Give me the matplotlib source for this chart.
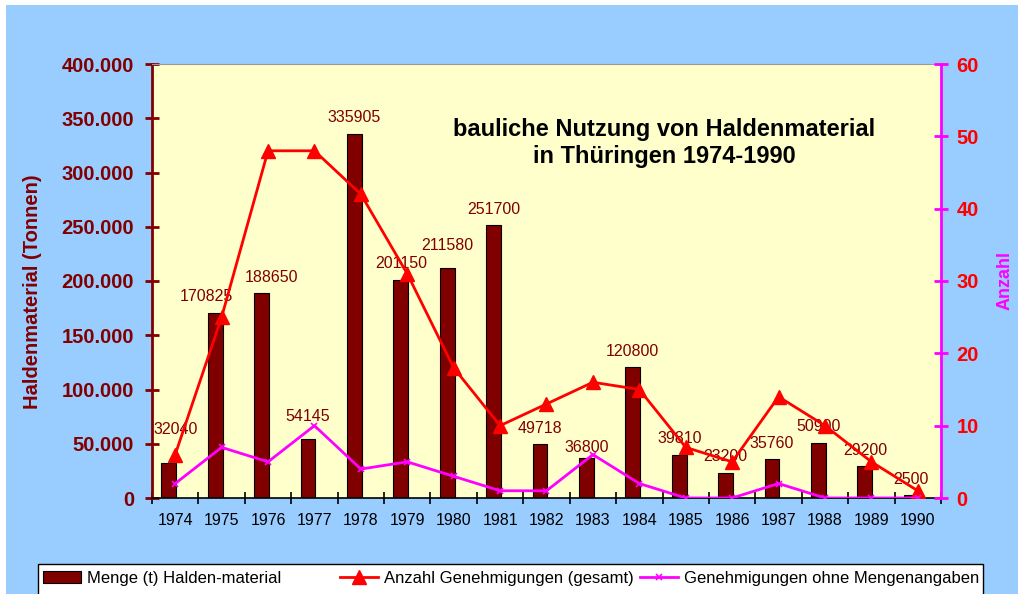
import numpy as np
import matplotlib.pyplot as plt
from matplotlib.patches import Rectangle
from matplotlib.ticker import FuncFormatter

plt.rcParams['font.family'] = ['Liberation Sans', 'DejaVu Sans']

years = ["1974", "1975", "1976", "1977", "1978", "1979", "1980", "1981", "1982",
         "1983", "1984", "1985", "1986", "1987", "1988", "1989", "1990"]
menge = [32040, 170825, 188650, 54145, 335905, 201150, 211580, 251700, 49718,
         36800, 120800, 39810, 23200, 35760, 50900, 29200, 2500]
anzahl_gesamt = [6, 25, 48, 48, 42, 31, 18, 10, 13, 16, 15, 7, 5, 14, 10, 5, 1]
ohne_menge = [2, 7, 5, 10, 4, 5, 3, 1, 1, 6, 2, 0, 0, 2, 0, 0, 0]

# hand-moved data labels in the original (offset in points)
label_nudge = {"1974": (5, 13), "1975": (-6, 0), "1976": (7, 0), "1977": (0, 5),
               "1980": (0, 5), "1983": (0, -4)}

DARKRED = "#800000"
BG = "#99CCFF"

fig = plt.figure(figsize=(10.18, 5.94), dpi=100, facecolor=BG)
# white strips at the top and left edge
fig.patches.append(Rectangle((0, 0), 6 / 1018, 1, transform=fig.transFigure,
                             facecolor="white", edgecolor="none"))
fig.patches.append(Rectangle((0, 1 - 5 / 594), 1, 5 / 594, transform=fig.transFigure,
                             facecolor="white", edgecolor="none"))

ax = fig.add_axes([152 / 1018, 96 / 594, 789 / 1018, 434 / 594])
ax.set_facecolor("#FFFFCC")
x = np.arange(len(years))

bars = ax.bar(x - 0.14, menge, width=0.32, color=DARKRED, edgecolor="black",
              linewidth=0.8, label="Menge (t) Halden-material", zorder=2)
for xi, yr, v in zip(x, years, menge):
    dx, dy = label_nudge.get(yr, (0, 0))
    ax.annotate(str(v), (xi - 0.14, v), xytext=(dx, 6 + dy), textcoords="offset points",
                ha="center", va="bottom", fontsize=11.5, color=DARKRED, zorder=3)

ax.set_xlim(-0.5, len(years) - 0.5)
ax.set_ylim(0, 400000)
ax.set_yticks(np.arange(0, 400001, 50000))
ax.yaxis.set_major_formatter(FuncFormatter(lambda v, p: f"{v:,.0f}".replace(",", ".")))
ax.tick_params(axis="y", direction="inout", length=10, width=2, color=DARKRED,
               labelcolor=DARKRED, labelsize=14.5, pad=8)
for lab in ax.get_yticklabels():
    lab.set_fontweight("bold")

ax.set_xticks(np.arange(-0.5, len(years), 1))
ax.set_xticklabels([])
ax.set_xticks(x, minor=True)
ax.set_xticklabels(years, minor=True, fontsize=11.5)
ax.tick_params(axis="x", which="major", direction="inout", length=9, width=1.2)
ax.tick_params(axis="x", which="minor", length=0, pad=11)

ax.spines["left"].set_color(DARKRED)
ax.spines["left"].set_linewidth(2)
ax.spines["bottom"].set_color("black")
ax.spines["bottom"].set_linewidth(1.2)
ax.spines["top"].set_color("#999999")
ax.spines["right"].set_visible(False)

ax2 = ax.twinx()
ax2.set_ylim(0, 60)
ax2.set_yticks(np.arange(0, 61, 10))
l1, = ax2.plot(x, anzahl_gesamt, color="#FF0000", linewidth=2, marker="^",
               markersize=10, label="Anzahl Genehmigungen (gesamt)")
l2, = ax2.plot(x, ohne_menge, color="#FF00FF", linewidth=2, marker="x",
               markersize=5, markeredgewidth=1.2, label="Genehmigungen ohne Mengenangaben")
ax2.tick_params(axis="y", direction="inout", length=10, width=2, color="#FF00FF",
                labelcolor="#FF0000", labelsize=14.5, pad=6)
for lab in ax2.get_yticklabels():
    lab.set_fontweight("bold")
ax2.spines["right"].set_color("#FF00FF")
ax2.spines["right"].set_linewidth(2)
for s in ["left", "top", "bottom"]:
    ax2.spines[s].set_visible(False)

fig.text(33 / 1018, 1 - 292 / 594, "Haldenmaterial (Tonnen)", rotation=90,
         ha="center", va="center", fontsize=14.5, fontweight="bold", color=DARKRED)
fig.text(1005 / 1018, 1 - 280 / 594, "Anzahl", rotation=90, ha="center", va="center",
         fontsize=13, fontweight="bold", color="#FF00FF")
fig.text(664 / 1018, 1 - 143 / 594, "bauliche Nutzung von Haldenmaterial\nin Thüringen 1974-1990",
         ha="center", va="center", fontsize=17, fontweight="bold", color="black",
         linespacing=1.22)

# legend box: white frame running off the bottom edge, three equal columns
fig.patches.append(Rectangle((38 / 1018, -0.05), 945 / 1018, 0.05 + 30 / 594,
                             transform=fig.transFigure, facecolor="white",
                             edgecolor="black", linewidth=1))
for h, x0 in zip([bars, l1, l2], [43, 340, 640]):
    fig.legend(handles=[h], loc="center left", bbox_to_anchor=(x0 / 1018, 1 - 578 / 594),
               fontsize=12, frameon=False, handlelength=2.3, handletextpad=0.35,
               borderpad=0, borderaxespad=0)

fig.savefig("out.png", dpi=100, facecolor=BG)
